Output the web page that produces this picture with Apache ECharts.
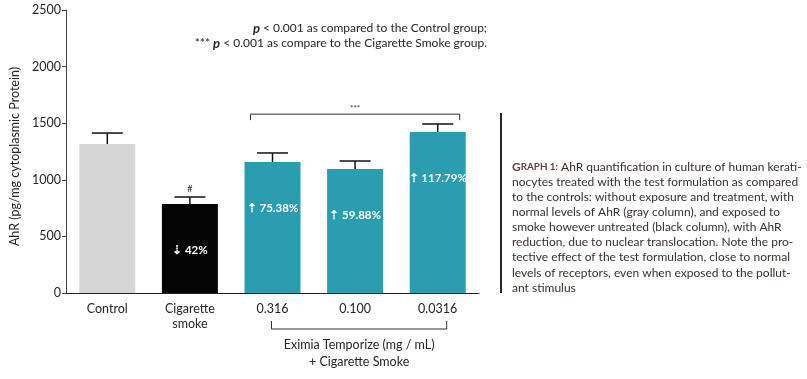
<!DOCTYPE html>
<html><head><meta charset="utf-8">
<script src="https://cdn.jsdelivr.net/npm/echarts@6/dist/echarts.min.js"></script>
<style>html,body{margin:0;padding:0;background:#fff}#c{width:807px;height:379px}</style>
</head><body><div id="c"></div>
<script>
const categories = ['Control', 'Cigarette\nsmoke', '0.316', '0.100', '0.0316'];
const means = [1316, 786, 1157, 1095, 1422];
const errorTops = [1413, 848, 1237, 1166, 1493];
const barColors = ['#d6d6d6', '#050505', '#2a9db1', '#2a9db1', '#2a9db1'];
const barLabels = ['', '\u21E3 42%', '\u21E1 75.38%', '\u21E1 59.88%', '\u21E1 117.79%'];
const markAboveCigarette = '#';
const sigBracket = {from: 2, to: 4, value: 1580, drop: 1527, label: '***'};
const groupBracket = {from: 2, to: 4, label1: 'Eximia Temporize (mg / mL)', label2: '+ Cigarette Smoke'};
const yAxisTitle = 'AhR (pg/mg cytoplasmic Protein)';
const legendLine1 = ['p', ' < 0.001 as compared to the Control group;'];
const legendLine2 = ['*** ', 'p', ' < 0.001 as compare to the Cigarette Smoke group.'];
const captionLines = [
  'AhR quantification in culture of human kerati-',
  'nocytes treated with the test formulation as compared',
  'to the controls: without exposure and treatment, with',
  'normal levels of AhR (gray column), and exposed to',
  'smoke however untreated (black column), with AhR',
  'reduction, due to nuclear translocation. Note the pro-',
  'tective effect of the test formulation, close to normal',
  'levels of receptors, even when exposed to the pollut-',
  'ant stimulus'
];

const FONT = 'Lato';
const TXT = '#2a2422';
const CAP = 12;
const chart = echarts.init(document.getElementById('c'));

const barData = means.map((v, i) => ({
  value: v,
  itemStyle: {color: barColors[i]},
  label: {show: !!barLabels[i], formatter: barLabels[i]}
}));

const errData = means.map((v, i) => [i, v, errorTops[i]]);

const graphics = [];
graphics.push({
  type: 'text', right: 807 - 487, top: 22,
  style: {
    text: '{bp|' + legendLine1[0] + '}{n|' + legendLine1[1] + '}',
    rich: {
      bp: {fontFamily: FONT, fontStyle: 'italic', fontWeight: 'bold', fontSize: 13, fill: TXT},
      n: {fontFamily: FONT, fontSize: 12, fill: TXT}
    }
  }
});
graphics.push({
  type: 'text', right: 807 - 487, top: 37,
  style: {
    text: '{n|' + legendLine2[0] + '}{bp|' + legendLine2[1] + '}{n|' + legendLine2[2] + '}',
    rich: {
      bp: {fontFamily: FONT, fontStyle: 'italic', fontWeight: 'bold', fontSize: 13, fill: TXT},
      n: {fontFamily: FONT, fontSize: 12, fill: TXT}
    }
  }
});
graphics.push({
  type: 'rect', shape: {x: 500, y: 113, width: 2, height: 180}, style: {fill: '#2a2422'}
});
captionLines.forEach((t, i) => {
  graphics.push({
    type: 'text', left: 512, top: 161 + i * 15.1,
    style: i === 0 ? {
      text: '{g|G}{s|RAPH 1:}{n| ' + t + '}',
      rich: {
        g: {fontFamily: FONT, fontSize: CAP, fontWeight: 'bold', fill: '#5a4a40'},
        s: {fontFamily: FONT, fontSize: 9.8, fontWeight: 'bold', fill: '#5a4a40'},
        n: {fontFamily: FONT, fontSize: CAP, fill: '#3a302c'}
      }
    } : {text: t, fontFamily: FONT, fontSize: CAP, fill: '#3a302c'}
  });
});

chart.setOption({
  animation: false,
  backgroundColor: '#fff',
  textStyle: {fontFamily: FONT},
  grid: {left: 62, top: 10, width: 417, height: 283, containLabel: false},
  xAxis: {
    type: 'category', data: categories,
    axisLine: {lineStyle: {color: '#222', width: 1}},
    axisTick: {show: false},
    axisLabel: {color: TXT, fontSize: 12.5, fontFamily: FONT, margin: 8, lineHeight: 15}
  },
  yAxis: {
    type: 'value', min: 0, max: 2500, interval: 500,
    name: yAxisTitle, nameLocation: 'middle', nameGap: 45, nameRotate: 90,
    nameTextStyle: {color: TXT, fontSize: 12.5, fontFamily: FONT, padding: [0, 10, 0, 0]},
    axisLine: {show: true, lineStyle: {color: '#444', width: 1}},
    axisTick: {show: true, inside: false, length: 4, lineStyle: {color: '#444'}},
    splitLine: {show: false},
    axisLabel: {color: TXT, fontSize: 12.5, fontFamily: FONT, margin: 5, formatter: v => String(v)}
  },
  graphic: graphics,
  series: [
    {
      type: 'bar', data: barData, barWidth: 56,
      label: {position: 'insideTop', distance: 40, color: '#fff', fontSize: 11.5, fontWeight: 'bold', fontFamily: FONT}
    },
    {
      type: 'custom', data: errData, z: 5,
      renderItem: function (params, api) {
        const i = api.value(0);
        const b = api.coord([i, api.value(1)]);
        const t = api.coord([i, api.value(2)]);
        const children = [
          {type: 'line', shape: {x1: b[0], y1: b[1], x2: t[0], y2: t[1]}, style: {stroke: '#111', lineWidth: 1.5}},
          {type: 'line', shape: {x1: t[0] - 15.5, y1: t[1], x2: t[0] + 15.5, y2: t[1]}, style: {stroke: '#111', lineWidth: 1.5}}
        ];
        if (i === 1) {
          children.push({type: 'text', style: {text: markAboveCigarette, x: t[0], y: t[1] - 8, align: 'center', verticalAlign: 'middle', fontSize: 9, fontFamily: FONT, fill: '#222'}});
        }
        return {type: 'group', children: children};
      }
    },
    {
      type: 'custom', data: [[sigBracket.from, sigBracket.to]], z: 5, clip: false,
      renderItem: function (params, api) {
        const a = api.coord([api.value(0), sigBracket.value]);
        const b = api.coord([api.value(1), sigBracket.value]);
        const d = api.coord([api.value(0), sigBracket.drop]);
        const x1 = a[0] - 22, x2 = b[0] + 22;
        const lb = api.coord([api.value(0), 0]);
        const cx = api.coord([(api.value(0) + api.value(1)) / 2, 0])[0];
        const ba = a[0] - 1, bb = b[0] + 9;
        return {type: 'group', children: [
          {type: 'polyline', shape: {points: [[x1, d[1]], [x1, a[1]], [x2, a[1]], [x2, d[1]]]}, style: {stroke: '#333', lineWidth: 1, fill: null}},
          {type: 'text', style: {text: sigBracket.label, x: (x1 + x2) / 2, y: a[1] - 6, align: 'center', verticalAlign: 'middle', fontSize: 8, fontFamily: FONT, fill: '#333'}},
          {type: 'polyline', shape: {points: [[ba, lb[1] + 28], [ba, lb[1] + 36], [bb, lb[1] + 36], [bb, lb[1] + 28]]}, style: {stroke: '#333', lineWidth: 1, fill: null}},
          {type: 'text', style: {text: groupBracket.label1, x: cx + 4, y: lb[1] + 52, align: 'center', verticalAlign: 'middle', fontSize: 12.5, fontFamily: FONT, fill: TXT}},
          {type: 'text', style: {text: groupBracket.label2, x: cx + 4, y: lb[1] + 69, align: 'center', verticalAlign: 'middle', fontSize: 12.5, fontFamily: FONT, fill: TXT}}
        ]};
      }
    }
  ]
});
</script></body></html>
